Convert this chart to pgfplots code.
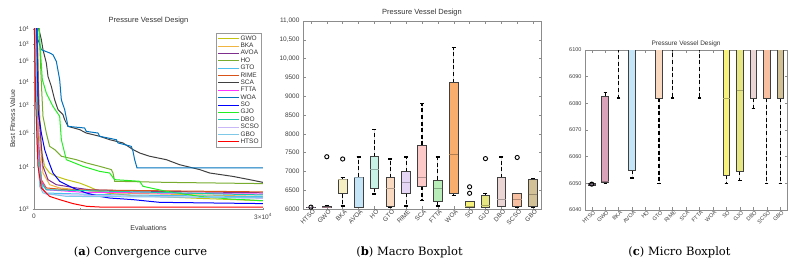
\documentclass[border=0pt]{standalone}
\usepackage{fontspec}
\usepackage{pgfplots}
\pgfplotsset{compat=1.18}
\usepgfplotslibrary{statistics}
\newfontfamily\chartfont{Liberation Sans}
\newfontfamily\capserif{DejaVu Serif}
\newcommand\capfont{\capserif\fontsize{11.5}{14}\selectfont}

% curve colours
\definecolor{lGWO}{HTML}{C2C210}
\definecolor{lBKA}{HTML}{F0B440}
\definecolor{lAVOA}{HTML}{7E2F8E}
\definecolor{lHO}{HTML}{77AC30}
\definecolor{lGTO}{HTML}{4DBEEE}
\definecolor{lRIME}{HTML}{D95319}
\definecolor{lSCA}{HTML}{404040}
\definecolor{lFTTA}{HTML}{FF33FF}
\definecolor{lWOA}{HTML}{0072BD}
\definecolor{lSO}{HTML}{0000FF}
\definecolor{lGJO}{HTML}{22EE22}
\definecolor{lDBO}{HTML}{1AC8B0}
\definecolor{lSCSO}{HTML}{C8B8F8}
\definecolor{lGBO}{HTML}{80C8E8}
\definecolor{lHTSO}{HTML}{FF0000}
% box fills
\definecolor{bHTSO}{HTML}{B8A0C0}
\definecolor{bGWO}{HTML}{D9A3B9}
\definecolor{bBKA}{HTML}{F7EFC4}
\definecolor{bAVOA}{HTML}{C4E4F8}
\definecolor{bHO}{HTML}{C8F2E6}
\definecolor{bGTO}{HTML}{F9D9C0}
\definecolor{bRIME}{HTML}{E6D6F6}
\definecolor{bSCA}{HTML}{FCC8C8}
\definecolor{bFTTA}{HTML}{B8ECB8}
\definecolor{bWOA}{HTML}{F9AE6E}
\definecolor{bSO}{HTML}{F6F27C}
\definecolor{bGJO}{HTML}{E6E682}
\definecolor{bDBO}{HTML}{EAD4D4}
\definecolor{bSCSO}{HTML}{F8C0A0}
\definecolor{bGBO}{HTML}{D2C096}

\pgfplotsset{
  chart/.style={
    scale only axis,
    tick align=inside,
    major tick length=2.5pt,
    axis line style={black!45},
    every tick/.style={black!45},
    tick label style={font=\chartfont\fontsize{6.5}{7}\selectfont, text=black!75},
    label style={font=\chartfont\fontsize{7}{8}\selectfont, text=black!80},
    title style={font=\chartfont\fontsize{7.5}{9}\selectfont, text=black!80, inner sep=1pt},
    scaled ticks=false,
    /pgf/number format/assume math mode=true,
    /pgf/number format/1000 sep={},
  },
  boxplot/draw direction=y,
  boxplot/every whisker/.style={black, line width=1.2pt, dash pattern=on 4pt off 2.6pt},
  boxplot/every box/.style={draw=black!75, line width=0.7pt},
}

% one box: position, fill, lower whisker, Q1, median, Q3, upper whisker, extend, outliers
\newcommand\onebox[9]{%
  \addplot[boxplot prepared={draw position=#1, lower whisker=#3, lower quartile=#4,
      median=#5, upper quartile=#6, upper whisker=#7, box extend=#8, whisker extend=0.25},
    fill=#2, draw=black!75,
    boxplot/every median/.style={draw=#2!72!black, line width=0.8pt},
    mark=o, mark size=2.1pt, mark options={solid, draw=black, line width=0.9pt}]
    coordinates {#9};}

% the fifteen result distributions
\newcommand\allboxes[1]{%
  \onebox{1}{bHTSO}{6049.2}{6049.3}{6049.7}{6050.1}{6050.2}{#1}{(1,6049.7)}
  \onebox{2}{bGWO}{6050}{6050.2}{6050.6}{6082.8}{6084}{#1}{(2,7390)}
  \onebox{3}{bBKA}{6082}{6405}{6775}{6790}{6830}{#1}{(3,7330)}
  \onebox{4}{bAVOA}{6052}{6055}{6845}{6855}{7385}{#1}{}
  \onebox{5}{bHO}{6400}{6550}{7050}{7390}{8115}{#1}{}
  \onebox{6}{bGTO}{6050}{6082}{6540}{6830}{7330}{#1}{}
  \onebox{7}{bRIME}{6082}{6418}{6710}{6990}{7385}{#1}{}
  \onebox{8}{bSCA}{6220}{6612}{6843}{7690}{8800}{#1}{}
  \onebox{9}{bFTTA}{6082}{6205}{6545}{6770}{7385}{#1}{}
  \onebox{10}{bWOA}{6360}{6420}{7440}{9360}{10300}{#1}{}
  \onebox{11}{bSO}{6050}{6053}{6082}{6195}{6200}{#1}{(11,6418) (11,6590)}
  \onebox{12}{bGJO}{6051}{6054.5}{6085}{6375}{6410}{#1}{(12,7340)}
  \onebox{13}{bDBO}{6078}{6082}{6255}{6830}{7385}{#1}{}
  \onebox{14}{bSCSO}{6050}{6082}{6268}{6415}{6420}{#1}{(14,7370)}
  \onebox{15}{bGBO}{6050}{6082}{6395}{6790}{6800}{#1}{}
}

\begin{document}
\begin{tikzpicture}
\useasboundingbox (0pt,0pt) rectangle (796pt,265pt);

% ---------------- (a) convergence curves ----------------
\begin{axis}[chart,
  at={(34pt,56pt)}, anchor=south west, width=229pt, height=180pt,
  axis lines=left, axis line style={-, black!45},
  xmin=0, xmax=30000, ymin=0, ymax=1,
  xtick={0,30000}, xticklabels={0, 3×10\textsuperscript{4}},
  extra x ticks={6000}, extra x tick labels={},
  ytick={0,0.233,0.422,0.578,0.706,0.822,0.917,1},
  yticklabels={10\textsuperscript{3},10\textsuperscript{4},10\textsuperscript{5},10\textsuperscript{3},10\textsuperscript{4},10\textsuperscript{5},10\textsuperscript{3},10\textsuperscript{4}},
  xlabel={Evaluations}, ylabel={Best Fitness Value},
  xlabel style={yshift=3pt}, ylabel style={yshift=-3pt},
  title={Pressure Vessel Design}, title style={yshift=-2pt},
  every axis plot/.append style={line width=1pt},
  legend cell align=left,
  legend style={at={(0.994,0.976)}, anchor=north east, draw=black!40, fill=white,
    font=\chartfont\fontsize{6.5}{7}\selectfont, text=black!80,
    inner xsep=1.5pt, inner ysep=1.2pt, row sep=-0.65pt,
    nodes={inner sep=1pt}},
  legend image code/.code={\draw[#1, line width=1pt] (0pt,0pt) -- (21pt,0pt);},
]
\addplot[lGWO] coordinates {(393,1.02) (655,0.607) (961,0.330) (1397,0.237) (2052,0.2) (2926,0.181) (4236,0.163) (5983,0.144) (7074,0.126) (8603,0.098) (9476,0.089) (12970,0.074) (17336,0.067) (21703,0.059) (30000,0.046)};
\addlegendentry{GWO}
\addplot[lBKA] coordinates {(393,1.02) (655,0.422) (1179,0.2) (2052,0.135) (3362,0.117) (6419,0.104) (10786,0.089) (30000,0.070)};
\addlegendentry{BKA}
\addplot[lAVOA] coordinates {(393,1.02) (655,0.515) (1179,0.237) (1834,0.163) (2926,0.135) (5546,0.117) (7293,0.107) (12970,0.100) (30000,0.090)};
\addlegendentry{AVOA}
\addplot[lHO] coordinates {(655,1.02) (961,0.700) (1179,0.515) (1616,0.422) (2052,0.348) (2707,0.330) (3581,0.293) (5546,0.274) (6856,0.256) (8603,0.237) (10131,0.219) (10350,0.2) (10568,0.154) (17336,0.148) (30000,0.141)};
\addlegendentry{HO}
\addplot[lGTO] coordinates {(131,1.02) (393,0.422) (742,0.163) (1397,0.089) (8603,0.080) (30000,0.068)};
\addlegendentry{GTO}
\addplot[lRIME] coordinates {(218,1.02) (524,0.422) (961,0.163) (1616,0.117) (4236,0.107) (30000,0.095)};
\addlegendentry{RIME}
\addplot[lSCA] coordinates {(524,1.02) (961,0.941) (1179,0.885) (1616,0.811) (1834,0.737) (2271,0.681) (2707,0.607) (3144,0.552) (3799,0.524) (4018,0.496) (4454,0.459) (5983,0.441) (6856,0.422) (8603,0.404) (9913,0.385) (11659,0.367) (12970,0.330) (13843,0.311) (15153,0.293) (17336,0.274) (19083,0.246) (21703,0.219) (23013,0.2) (26070,0.181) (28253,0.163) (30000,0.148)};
\addlegendentry{SCA}
\addplot[lFTTA] coordinates {(218,1.02) (524,0.385) (961,0.154) (1616,0.107) (6419,0.093) (30000,0.083)};
\addlegendentry{FTTA}
\addplot[lWOA] coordinates {(393,1.02) (524,0.941) (961,0.885) (2052,0.867) (2489,0.857) (2926,0.820) (3362,0.719) (3581,0.607) (4018,0.552) (4454,0.459) (6638,0.45) (6856,0.431) (8384,0.422) (8603,0.404) (10786,0.385) (11005,0.367) (12751,0.348) (12970,0.320) (13188,0.274) (13494,0.228) (30000,0.228)};
\addlegendentry{WOA}
\addplot[lSO] coordinates {(306,1.02) (524,0.552) (961,0.422) (1397,0.330) (1834,0.274) (2489,0.2) (3362,0.154) (5109,0.117) (6856,0.089) (8603,0.070) (9913,0.061) (12970,0.052) (16463,0.037) (30000,0.030)};
\addlegendentry{SO}
\addplot[lGJO] coordinates {(655,1.02) (830,0.885) (1092,0.719) (1616,0.644) (2489,0.570) (3362,0.515) (3581,0.385) (4236,0.274) (6419,0.237) (8603,0.209) (9913,0.2) (10568,0.163) (13843,0.154) (14280,0.126) (17336,0.098) (21703,0.070) (25633,0.056) (30000,0.046)};
\addlegendentry{GJO}
\addplot[lDBO] coordinates {(218,1.02) (524,0.330) (961,0.144) (1616,0.107) (30000,0.078)};
\addlegendentry{DBO}
\addplot[lSCSO] coordinates {(131,1.02) (437,0.330) (830,0.126) (1616,0.080) (30000,0.059)};
\addlegendentry{SCSO}
\addplot[lGBO] coordinates {(131,1.02) (393,0.385) (742,0.126) (1179,0.089) (4236,0.070) (30000,0.063)};
\addlegendentry{GBO}
\addplot[lHTSO] coordinates {(44,1.02) (218,0.607) (524,0.237) (961,0.117) (1397,0.098) (2052,0.070) (3362,0.052) (5109,0.030) (6856,0.015) (8603,0.011) (30000,0.011)};
\addlegendentry{HTSO}
\end{axis}

% ---------------- (b) macro boxplot ----------------
\begin{axis}[chart,
  at={(303pt,56pt)}, anchor=south west, width=238pt, height=188pt,
  xmin=0.5, xmax=15.5, ymin=6000, ymax=11000,
  ytick={6000,6500,...,11000},
  yticklabels={6000,6500,7000,7500,8000,8500,9000,9500,{10,000},{10,500},{11,000}},
  xtick={1,...,15},
  xticklabels={HTSO,GWO,BKA,AVOA,HO,GTO,RIME,SCA,FTTA,WOA,SO,GJO,DBO,SCSO,GBO},
  x tick label style={rotate=45, anchor=east, inner sep=0.5pt, xshift=1.5pt, yshift=-3.5pt,
    font=\chartfont\fontsize{6.3}{7}\selectfont},
  title={Pressure Vessel Design}, title style={yshift=-2pt},
]
\allboxes{0.55}
\end{axis}

% ---------------- (c) micro boxplot ----------------
\begin{axis}[chart,
  at={(585pt,55pt)}, anchor=south west, width=202pt, height=160pt,
  xmin=0.5, xmax=15.5, ymin=6040, ymax=6100,
  ytick={6040,6050,...,6100},
  xtick={1,...,15},
  xticklabels={HTSO,GWO,BKA,AVOA,HO,GTO,RIME,SCA,FTTA,WOA,SO,GJO,DBO,SCSO,GBO},
  tick label style={font=\chartfont\fontsize{5.5}{6}\selectfont},
  x tick label style={rotate=45, anchor=east, inner sep=0.5pt, xshift=1.2pt, yshift=-3pt},
  title={Pressure Vessel Design}, title style={yshift=-4pt, font=\chartfont\fontsize{6.5}{8}\selectfont},
]
\allboxes{0.5}
\end{axis}

% ---------------- sub-captions ----------------
\node[font=\capfont] at (140.5pt,13pt) {(\textbf{a}) Convergence curve};
\node[font=\capfont] at (409.5pt,13pt) {(\textbf{b}) Macro Boxplot};
\node[font=\capfont] at (679.5pt,13pt) {(\textbf{c}) Micro Boxplot};
\end{tikzpicture}
\end{document}
